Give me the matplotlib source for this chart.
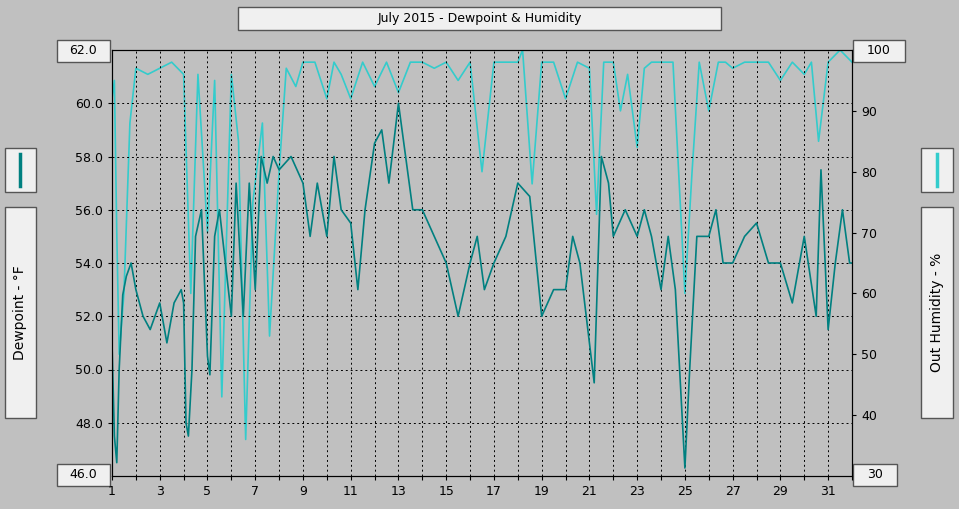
import matplotlib
matplotlib.use("Agg")
import matplotlib.pyplot as plt
from matplotlib.patches import Rectangle

dew_day = [1.0,1.1,1.2,1.3,1.45,1.6,1.8,2.0,2.3,2.6,3.0,3.3,3.6,3.9,4.0,4.1,4.2,4.35,4.5,4.75,5.0,5.1,5.3,5.5,5.75,6.0,6.2,6.5,6.75,7.0,7.25,7.5,7.75,8.0,8.5,9.0,9.3,9.6,10.0,10.3,10.6,11.0,11.3,11.6,12.0,12.3,12.6,13.0,13.3,13.6,14.0,14.5,15.0,15.5,16.0,16.3,16.6,17.0,17.5,18.0,18.5,19.0,19.5,20.0,20.3,20.6,21.0,21.2,21.5,21.8,22.0,22.5,23.0,23.3,23.6,24.0,24.3,24.6,25.0,25.2,25.5,26.0,26.3,26.6,27.0,27.5,28.0,28.5,29.0,29.5,30.0,30.5,30.7,31.0,31.3,31.6,31.9,32.0]
dew_val = [51.0,47.5,46.5,50.0,52.8,53.5,54.0,53.0,52.0,51.5,52.5,51.0,52.5,53.0,52.5,48.0,47.5,50.0,55.0,56.0,50.5,49.8,55.0,56.0,54.0,52.0,57.0,52.0,57.0,53.0,58.0,57.0,58.0,57.5,58.0,57.0,55.0,57.0,55.0,58.0,56.0,55.5,53.0,56.0,58.5,59.0,57.0,60.0,58.0,56.0,56.0,55.0,54.0,52.0,54.0,55.0,53.0,54.0,55.0,57.0,56.5,52.0,53.0,53.0,55.0,54.0,51.0,49.5,58.0,57.0,55.0,56.0,55.0,56.0,55.0,53.0,55.0,53.0,46.3,50.0,55.0,55.0,56.0,54.0,54.0,55.0,55.5,54.0,54.0,52.5,55.0,52.0,57.5,51.5,54.0,56.0,54.0,54.0]
hum_day = [1.0,1.1,1.2,1.3,1.5,1.75,2.0,2.5,3.0,3.5,4.0,4.3,4.6,5.0,5.3,5.6,6.0,6.3,6.6,6.9,7.3,7.6,8.0,8.3,8.7,9.0,9.5,10.0,10.3,10.6,11.0,11.5,12.0,12.5,13.0,13.5,14.0,14.5,15.0,15.5,16.0,16.5,17.0,17.5,18.0,18.2,18.6,19.0,19.5,20.0,20.5,21.0,21.3,21.6,22.0,22.3,22.6,23.0,23.3,23.6,24.0,24.5,25.0,25.3,25.6,26.0,26.4,26.7,27.0,27.5,28.0,28.5,29.0,29.5,30.0,30.3,30.6,31.0,31.5,32.0]
hum_val = [92,95,70,50,60,88,97,96,97,98,96,60,96,70,95,43,96,85,36,75,88,53,80,97,94,98,98,92,98,96,92,98,94,98,93,98,98,97,98,95,98,80,98,98,98,100,78,98,98,92,98,97,73,98,98,90,96,84,97,98,98,98,60,80,98,90,98,98,97,98,98,98,95,98,96,98,85,98,100,98]

bg = "#c0c0c0"
fig = plt.figure(figsize=(9.59, 5.09), dpi=100, facecolor=bg)
ax = fig.add_axes([112/959, 33/509, 740/959, 426/509], facecolor=bg)
ax.plot(dew_day, dew_val, color="#008080", lw=1.2)
ax.set_xlim(1, 32); ax.set_ylim(46, 62)
ax2 = ax.twinx()
ax2.plot(hum_day, hum_val, color="#33cccc", lw=1.2)
ax2.set_ylim(30, 100)
ax.set_zorder(2); ax.patch.set_visible(False); ax2.patch.set_visible(True); ax2.set_facecolor(bg)
ax2.set_zorder(1)
ax.set_xticks(range(1, 33))
ax.set_xticklabels([str(d) if d % 2 == 1 else "" for d in range(1, 33)], fontsize=9)
ax.set_yticks([48, 50, 52, 54, 56, 58, 60])
ax.set_yticklabels(["48.0","50.0","52.0","54.0","56.0","58.0","60.0"], fontsize=9)
ax2.set_yticks([40, 50, 60, 70, 80, 90])
ax2.tick_params(labelsize=9)
ax.grid(True, color="black", ls=(0, (2, 3)), lw=0.7)
for a in (ax, ax2):
    for s in a.spines.values(): s.set_color("black")
    a.tick_params(direction="out", length=3)

def box(x0, y0, x1, y1, text=None, rot=0, fs=9):
    fig.patches.append(Rectangle((x0/959, 1-y1/509), (x1-x0)/959, (y1-y0)/509,
                                 transform=fig.transFigure, facecolor="#f0f0f0", edgecolor="#555555", lw=1))
    if text:
        fig.text((x0+x1)/2/959, 1-(y0+y1)/2/509, text, ha="center", va="center", rotation=rot, fontsize=fs)

box(238, 7, 721, 30, "July 2015 - Dewpoint & Humidity")
box(57, 40, 110, 62, "62.0"); box(57, 464, 110, 486, "46.0")
box(853, 40, 905, 62, "100"); box(853, 464, 897, 486, "30")
box(5, 148, 36, 192); box(921, 148, 953, 192)
fig.add_artist(plt.Line2D([20/959, 20/959], [1-154/509, 1-186/509], color="#008080", lw=2.5))
fig.add_artist(plt.Line2D([937/959, 937/959], [1-154/509, 1-186/509], color="#33cccc", lw=2.5))
box(5, 207, 36, 418, "Dewpoint - °F", rot=90, fs=10)
box(921, 207, 953, 418, "Out Humidity - %", rot=90, fs=10)
fig.savefig("out.png", dpi=100, facecolor=bg)
